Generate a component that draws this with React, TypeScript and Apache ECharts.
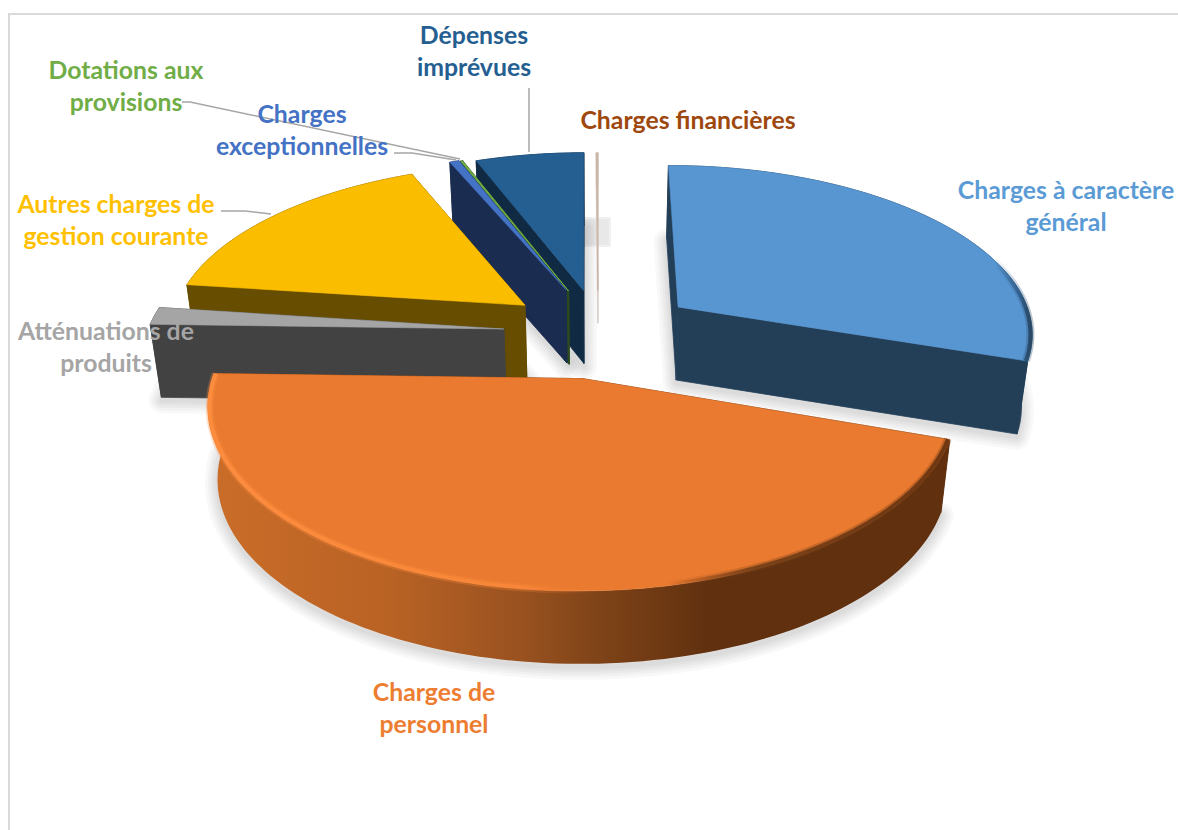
import React, { useEffect, useRef } from "react";
import * as echarts from "echarts";

// Budget lines, clockwise from twelve o'clock (share of total, %)
const categories = [
  "Charges à caractère général",
  "Charges de personnel",
  "Atténuations de produits",
  "Autres charges de gestion courante",
  "Charges exceptionnelles",
  "Dotations aux provisions",
  "Dépenses imprévues",
  "Charges financières",
];
const shares = [30.2, 45.25, 1.64, 16.5, 0.5, 0.1, 5.73, 0.08];

const topColors = ["#5896D2", "#EA7A2F", "#A5A5A5", "#FBBD00", "#4472C4", "#70AD47", "#255E91", "#C9B5A6"];
const wallColors = ["#233F58", "#60300F", "#424242", "#674D00", "#1A2C4F", "#2D4A1E", "#102A43", "#DAD2CC"];
const labelColors = ["#5B9BD5", "#ED7D31", "#A5A5A5", "#FFC000", "#4472C4", "#70AD47", "#255E91", "#9E480E"];
// How far each slice is pulled out of the pie, and in which direction (degrees clockwise from the back)
const explodeRatios = [0.26, 0.3, 0.265, 0.248, 0.247, 0.24, 0.23, 0.225];
const explodeDirections = [62, 188, 267.4, 302.4, 338, 339, 349.5, 359.9];
const wallDepths = [73, 73, 73, 73, 73, 73, 73, 32];
// Back-to-front painting order of the slices
const paintOrder = [7, 6, 5, 4, 3, 2, 0, 1];

const labelLayout = [
  { text: "Charges à caractère\ngénéral", x: 1066, y: 205 },
  { text: "Charges de\npersonnel", x: 434, y: 707 },
  { text: "Atténuations de\nproduits", x: 106, y: 346 },
  { text: "Autres charges de\ngestion courante", x: 116, y: 219 },
  { text: "Charges\nexceptionnelles", x: 302, y: 129 },
  { text: "Dotations aux\nprovisions", x: 126, y: 85 },
  { text: "Dépenses\nimprévues", x: 474, y: 50 },
  { text: "Charges financières", x: 688, y: 119 },
];
const leaderLines = [
  [[529, 88], [529, 152]],
  [[182, 102], [190, 102], [460, 159]],
  [[394, 153], [412, 153], [456, 160]],
  [[221, 211], [245, 211], [271, 214]],
];

// Perspective of the pie plane
const centerX = 598;
const centerY = 327;
const radiusX = 355;
const depthScale = 166.5;
const perspective = 0.14;
const baseShrink = 0.025;
const fullDepth = 73;

const total = shares.reduce((a, b) => a + b, 0);
const startAngles: number[] = [];
shares.reduce((acc, v, i) => {
  startAngles[i] = acc;
  return acc + (v / total) * 360;
}, 0);

type Pt = [number, number];
const project = (X: number, Y: number, drop = 0): Pt => {
  const w = 1 + perspective * Y;
  const shrink = 1 - (baseShrink * drop) / fullDepth;
  return [centerX + ((radiusX * X) / w) * shrink, centerY - (depthScale * Y) / w + drop];
};
const toPath = (pts: Pt[], close = true) =>
  pts.map((p, i) => `${i ? "L" : "M"}${p[0].toFixed(2)} ${p[1].toFixed(2)}`).join("") + (close ? "Z" : "");

function sliceGeometry(i: number) {
  const a0 = startAngles[i];
  const a1 = a0 + (shares[i] / total) * 360;
  const dir = (explodeDirections[i] * Math.PI) / 180;
  const e = explodeRatios[i];
  const ox = e * Math.sin(dir);
  const oy = e * Math.cos(dir);
  const steps = Math.max(2, Math.ceil((a1 - a0) / 1.5));
  const at = (r: number, drop: number) => {
    const pts: Pt[] = [];
    for (let s = 0; s <= steps; s++) {
      const t = ((a0 + ((a1 - a0) * s) / steps) * Math.PI) / 180;
      pts.push(project(ox + r * Math.sin(t), oy + r * Math.cos(t), drop));
    }
    return pts;
  };
  return { at, vertex: (drop: number) => project(ox, oy, drop) };
}

const linear = (stops: [number, string][]) => ({
  type: "linear",
  x: 0,
  y: 0,
  x2: 1,
  y2: 0,
  colorStops: stops.map(([offset, color]) => ({ offset, color })),
});

const orangeWall = linear([
  [0, "#CB6D29"],
  [0.25, "#B86224"],
  [0.42, "#9A5220"],
  [0.52, "#804418"],
  [0.68, "#60300F"],
  [1, "#60300F"],
]);
const orangeRim = linear([
  [0, "#FF8E40"],
  [0.42, "#F98739"],
  [0.52, "rgba(234,122,47,0)"],
  [0.62, "rgba(96,48,15,0)"],
  [0.74, "#6E3A14"],
  [1, "#60300F"],
]);
const blueRim = linear([
  [0, "rgba(46,90,133,0)"],
  [0.9, "rgba(46,90,133,0)"],
  [0.97, "#2E5A85"],
  [1, "#233F58"],
]);

// Soft ground shadow: stacked translucent outlines of each slice's base
const shadowWidths = [26, 20, 15, 10, 5];

function renderShadow(_params: any, api: any) {
  const i = api.value(0);
  if (shares[i] < 0.3) return { type: "group", children: [] };
  const g = sliceGeometry(i);
  const d = wallDepths[i] + 3;
  const path = toPath([g.vertex(d), ...g.at(1, d)]);
  return {
    type: "group",
    children: shadowWidths.map((lineWidth) => ({
      type: "path",
      shape: { pathData: path },
      style: { fill: "none", stroke: "rgba(0,0,0,0.028)", lineWidth, lineJoin: "round" },
    })),
  };
}

function renderSlice(_params: any, api: any) {
  const i = api.value(0);
  const g = sliceGeometry(i);
  const d = wallDepths[i];
  const top = g.at(1, 0);
  const low = g.at(1, d);
  const v0 = g.vertex(0);
  const v1 = g.vertex(d);
  const wall = wallColors[i];
  const wallStroke = shares[i] < 0.2 ? 1.4 : 0.8;
  const plain = (pts: Pt[]) => ({
    type: "path",
    shape: { pathData: toPath(pts) },
    style: { fill: wall, stroke: wall, lineWidth: wallStroke, lineJoin: "round" },
  });
  const children: any[] = [
    plain([v0, top[0], low[0], v1]),
    plain([v0, top[top.length - 1], low[low.length - 1], v1]),
    {
      type: "path",
      shape: { pathData: toPath([...top, ...low.slice().reverse()]) },
      style: {
        fill: i === 1 ? orangeWall : wall,
        stroke: i === 1 ? undefined : wall,
        lineWidth: wallStroke,
        lineJoin: "round",
      },
    },
    {
      type: "path",
      shape: { pathData: toPath([v0, ...top]) },
      style: {
        fill: topColors[i],
        stroke: topColors[i],
        lineWidth: shares[i] < 0.2 ? 1 : 0.6,
        lineJoin: "round",
      },
    },
  ];
  const rim = i === 1 ? orangeRim : i === 0 ? blueRim : null;
  if (rim) {
    const edge = g.at(0.995, 0);
    children.push(
      { type: "path", shape: { pathData: toPath(edge, false) }, style: { fill: "none", stroke: rim, lineWidth: 8, opacity: 0.3 } },
      { type: "path", shape: { pathData: toPath(edge, false) }, style: { fill: "none", stroke: rim, lineWidth: 4, opacity: 0.85 } },
    );
  }
  return { type: "group", children };
}

export default function App() {
  const ref = useRef<HTMLDivElement>(null);
  useEffect(() => {
    const chart = echarts.init(ref.current!, null, { renderer: "svg" });
    const seriesData = paintOrder.map((i) => ({ name: categories[i], value: [i, shares[i]] }));
    chart.setOption({
      animation: false,
      backgroundColor: "#ffffff",
      series: [
        { type: "custom", coordinateSystem: "none", silent: true, z: 1, data: seriesData, renderItem: renderShadow },
        { type: "custom", coordinateSystem: "none", silent: true, z: 2, data: seriesData, renderItem: renderSlice },
      ],
      graphic: [
        {
          type: "rect",
          z: 0,
          silent: true,
          shape: { x: 9, y: 14, width: 1300, height: 1000 },
          style: { fill: "none", stroke: "#D9D9D9", lineWidth: 2 },
        },
        {
          type: "rect",
          z: 0,
          silent: true,
          shape: { x: 585, y: 219, width: 24, height: 26 },
          style: { fill: "#E8E8E8", stroke: "rgba(232,232,232,0.6)", lineWidth: 4 },
        },
        ...leaderLines.map((pts) => ({
          type: "polyline",
          z: 20,
          silent: true,
          shape: { points: pts },
          style: { fill: "none", stroke: "#A6A6A6", lineWidth: 1.5 },
        })),
        ...labelLayout.map((l, i) => ({
          type: "text",
          z: 30,
          silent: true,
          x: l.x,
          y: l.y,
          style: {
            text: l.text,
            fill: labelColors[i],
            font: "bold 24.8px Lato, 'Open Sans', sans-serif",
            lineHeight: 32,
            align: "center",
            verticalAlign: "middle",
          },
        })),
      ],
    });
    return () => chart.dispose();
  }, []);
  return <div ref={ref} style={{ position: "fixed", left: 0, top: 0, width: 1178, height: 830 }} />;
}
